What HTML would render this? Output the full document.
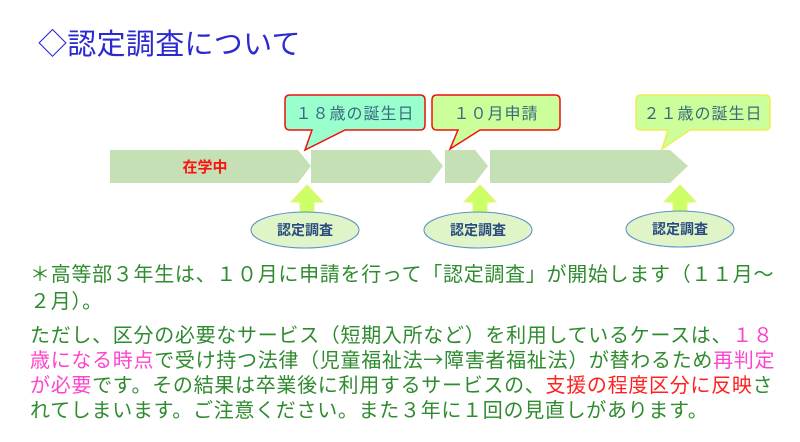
<!DOCTYPE html>
<html><head><meta charset="utf-8"><style>
body{margin:0;width:800px;height:442px;background:#fff;position:relative;overflow:hidden;font-family:"Liberation Sans","Noto Sans CJK JP",sans-serif}
.t{position:absolute;left:38px;top:22px;font-size:29px;color:#2a2ad0;white-space:nowrap;letter-spacing:0.3px;font-family:"Noto Sans CJK JP",sans-serif;line-height:40px}
.l{position:absolute;left:30px;font-size:20px;color:#2e8b2e;white-space:nowrap;letter-spacing:0.7px;line-height:25px;font-family:"Noto Sans CJK JP",sans-serif}
.p{color:#ff44cc}.r{color:#ff2020}
svg{position:absolute;left:0;top:0}
</style></head><body>
<div class="t">◇認定調査について</div>
<svg width="800" height="260" font-family="Liberation Sans, Noto Sans CJK JP, sans-serif">
<g fill="#c5e0b4">
<polygon points="110,150 298,150 311,166 298,183 110,183"/>
<polygon points="311,150 430,150 443,166 430,183 311,183"/>
<polygon points="445,150 475,150 488,166 475,183 445,183"/>
<polygon points="490,150 670,150 688,166 670,183 490,183"/>
</g>
<text x="205" y="172" font-size="15" font-weight="bold" fill="#ff1010" text-anchor="middle">在学中</text>
<path d="M290,95 H420 Q425,95 425,100 V125 Q425,130 420,130 H345 L305,150 L312,130 H290 Q285,130 285,125 V100 Q285,95 290,95Z" fill="#99ffcc" stroke="#ee1111" stroke-width="1.5"/>
<text x="355" y="119" font-size="16" fill="#3a6a80" text-anchor="middle" letter-spacing="1">１８歳の誕生日</text>
<path d="M437,95 H555 Q560,95 560,100 V125 Q560,130 555,130 H480 L450,149 L458,130 H437 Q432,130 432,125 V100 Q432,95 437,95Z" fill="#ccff99" stroke="#ee1111" stroke-width="1.5"/>
<text x="496" y="119" font-size="16" fill="#3a6a80" text-anchor="middle" letter-spacing="1">１０月申請</text>
<path d="M641,95 H765 Q770,95 770,100 V125 Q770,130 765,130 H690 L662,149 L668,130 H641 Q636,130 636,125 V100 Q636,95 641,95Z" fill="#ccff99" stroke="#eeee55" stroke-width="1.5"/>
<text x="703" y="119" font-size="16" fill="#3a6a80" text-anchor="middle" letter-spacing="1">２１歳の誕生日</text>
<g fill="#ccff66" stroke="#e8f070" stroke-width="1">
<polygon points="307,185 323,202 314,202 314,219 300,219 300,202 291,202"/>
<polygon points="480,185 496,202 487,202 487,219 473,219 473,202 464,202"/>
<polygon points="680,185 696,202 687,202 687,219 673,219 673,202 664,202"/>
</g>
<g fill="#dff5c8" stroke="#5b8fc7" stroke-width="1">
<ellipse cx="305" cy="230" rx="54" ry="18"/>
<ellipse cx="478" cy="230" rx="54" ry="18"/>
<ellipse cx="680" cy="229" rx="54" ry="18"/>
</g>
<g font-size="14" font-weight="bold" fill="#2a4a80" text-anchor="middle">
<text x="305" y="235">認定調査</text><text x="478" y="235">認定調査</text><text x="680" y="234">認定調査</text>
</g>
</svg>
<div class="l" style="top:260px">＊高等部３年生は、１０月に申請を行って「認定調査」が開始します（１１月～</div>
<div class="l" style="top:287px">２月）。</div>
<div class="l" style="top:321px">ただし、区分の必要なサービス（短期入所など）を利用しているケースは、<span class="p">１８</span></div>
<div class="l" style="top:346px"><span class="p">歳になる時点</span>で受け持つ法律（児童福祉法→障害者福祉法）が替わるため<span class="p">再判定</span></div>
<div class="l" style="top:371px"><span class="p">が必要</span>です。その結果は卒業後に利用するサービスの、<span class="r">支援の程度区分に反映</span>さ</div>
<div class="l" style="top:396px">れてしまいます。ご注意ください。また３年に１回の見直しがあります。</div>
</body></html>
